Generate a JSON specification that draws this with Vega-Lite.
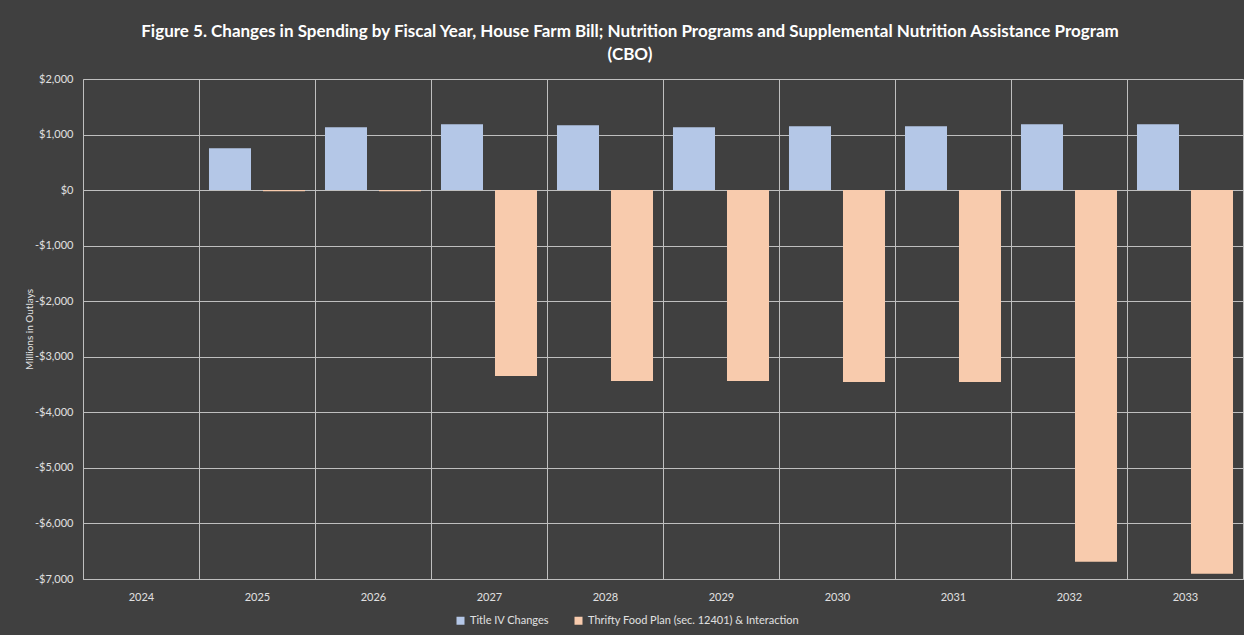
{
  "$schema": "https://vega.github.io/schema/vega-lite/v6.json",
  "width": 1160,
  "height": 500,
  "autosize": {"type": "none"},
  "padding": {"left": 83, "top": 79, "right": 2, "bottom": 56},
  "background": "#404040",
  "title": {
    "text": ["Figure 5. Changes in Spending by Fiscal Year, House Farm Bill; Nutrition Programs and Supplemental Nutrition Assistance Program", "(CBO)"],
    "color": "#ffffff",
    "font": "Lato",
    "fontSize": 17,
    "fontWeight": "bold",
    "lineHeight": 23,
    "anchor": "middle",
    "dx": -33,
    "offset": 9
  },
  "data": {
    "values": [
      {"year": "2024", "series": "Title IV Changes", "value": 0},
      {"year": "2024", "series": "Thrifty Food Plan (sec. 12401) & Interaction", "value": 0},
      {"year": "2025", "series": "Title IV Changes", "value": 755},
      {"year": "2025", "series": "Thrifty Food Plan (sec. 12401) & Interaction", "value": -20},
      {"year": "2026", "series": "Title IV Changes", "value": 1133},
      {"year": "2026", "series": "Thrifty Food Plan (sec. 12401) & Interaction", "value": -20},
      {"year": "2027", "series": "Title IV Changes", "value": 1187},
      {"year": "2027", "series": "Thrifty Food Plan (sec. 12401) & Interaction", "value": -3345},
      {"year": "2028", "series": "Title IV Changes", "value": 1169},
      {"year": "2028", "series": "Thrifty Food Plan (sec. 12401) & Interaction", "value": -3435},
      {"year": "2029", "series": "Title IV Changes", "value": 1133},
      {"year": "2029", "series": "Thrifty Food Plan (sec. 12401) & Interaction", "value": -3435},
      {"year": "2030", "series": "Title IV Changes", "value": 1151},
      {"year": "2030", "series": "Thrifty Food Plan (sec. 12401) & Interaction", "value": -3453},
      {"year": "2031", "series": "Title IV Changes", "value": 1151},
      {"year": "2031", "series": "Thrifty Food Plan (sec. 12401) & Interaction", "value": -3453},
      {"year": "2032", "series": "Title IV Changes", "value": 1187},
      {"year": "2032", "series": "Thrifty Food Plan (sec. 12401) & Interaction", "value": -6690},
      {"year": "2033", "series": "Title IV Changes", "value": 1187},
      {"year": "2033", "series": "Thrifty Food Plan (sec. 12401) & Interaction", "value": -6906}
    ]
  },
  "mark": {"type": "bar"},
  "encoding": {
    "x": {
      "field": "year",
      "type": "nominal",
      "scale": {"paddingInner": 0, "paddingOuter": 0},
      "axis": {
        "title": null,
        "labelAngle": 0,
        "grid": true,
        "tickBand": "extent",
        "gridColor": "#bfbfbf",
        "gridWidth": 1,
        "ticks": false,
        "domainColor": "#bfbfbf",
        "labelColor": "#e0e0e0",
        "labelFont": "Lato",
        "labelFontSize": 11,
        "labelPadding": 12
      }
    },
    "xOffset": {
      "field": "series",
      "type": "nominal",
      "sort": ["Title IV Changes", "Thrifty Food Plan (sec. 12401) & Interaction"],
      "scale": {"paddingInner": 0.222, "paddingOuter": 0.185}
    },
    "y": {
      "field": "value",
      "type": "quantitative",
      "scale": {"domain": [-7000, 2000], "nice": false},
      "axis": {
        "title": "Millions in Outlays",
        "titleColor": "#e0e0e0",
        "titleFont": "Lato",
        "titleFontSize": 10,
        "titleFontWeight": "normal",
        "titlePadding": 0,
        "values": [-7000, -6000, -5000, -4000, -3000, -2000, -1000, 0, 1000, 2000],
        "labelExpr": "datum.value < 0 ? '-$' + format(-datum.value, ',') : '$' + format(datum.value, ',')",
        "grid": true,
        "gridColor": "#bfbfbf",
        "gridWidth": 1,
        "ticks": false,
        "domainColor": "#bfbfbf",
        "labelColor": "#e0e0e0",
        "labelFont": "Lato",
        "labelFontSize": 11,
        "labelPadding": 10
      }
    },
    "color": {
      "field": "series",
      "type": "nominal",
      "scale": {
        "domain": ["Title IV Changes", "Thrifty Food Plan (sec. 12401) & Interaction"],
        "range": ["#b4c7e7", "#f8cbad"]
      },
      "legend": {
        "title": null,
        "orient": "none",
        "direction": "horizontal",
        "legendX": 372,
        "legendY": 536,
        "symbolType": "square",
        "symbolSize": 64,
        "symbolStrokeWidth": 0,
        "labelColor": "#e0e0e0",
        "labelFont": "Lato",
        "labelFontSize": 11,
        "labelLimit": 0,
        "columnPadding": 24
      }
    }
  },
  "config": {"view": {"stroke": null}}
}
